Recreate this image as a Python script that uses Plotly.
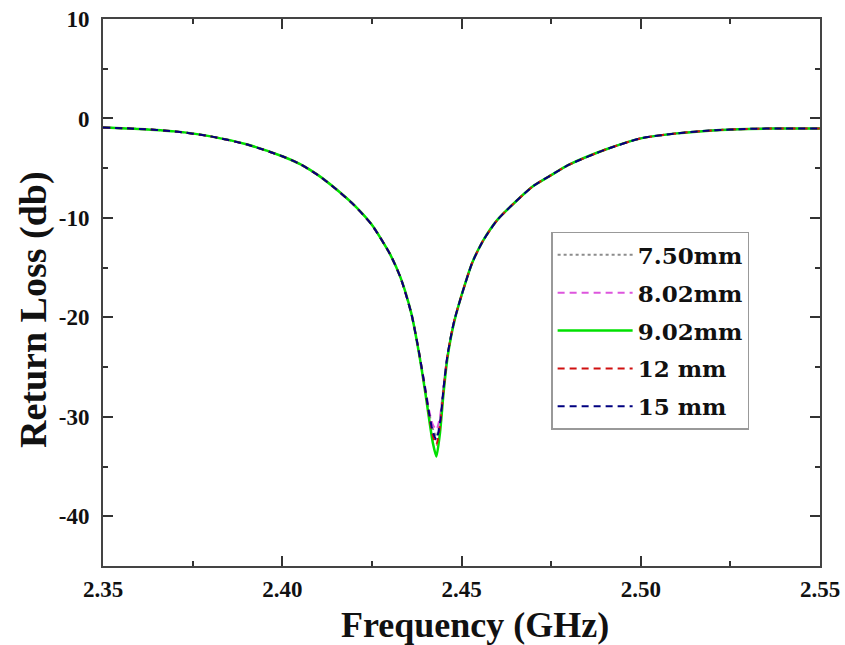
import plotly.graph_objects as go

# Frequency sweep (GHz)
freq = [2.350, 2.360, 2.370, 2.380, 2.390, 2.400, 2.405, 2.410, 2.415, 2.420,
        2.425, 2.430, 2.433, 2.436, 2.438, 2.440, 2.441, 2.442, 2.443, 2.444,
        2.445, 2.446, 2.447, 2.448, 2.450, 2.453, 2.456, 2.460, 2.465, 2.470,
        2.475, 2.480, 2.490, 2.500, 2.510, 2.520, 2.530, 2.540, 2.550]

# Return loss (dB) for each slot length
rl_750 = [-0.9, -1.05, -1.3, -1.8, -2.6, -3.8, -4.6, -5.7, -7.1, -8.7,
          -10.7, -13.6, -16.0, -19.6, -23.2, -27.4, -29.6, -31.2, -32.0, -30.4,
          -27.0, -24.0, -22.0, -20.3, -17.8, -14.5, -12.3, -10.2, -8.4, -6.8,
          -5.7, -4.65, -3.15, -2.0, -1.5, -1.2, -1.05, -1.0, -1.0]
rl_802 = [-0.9, -1.05, -1.3, -1.8, -2.6, -3.8, -4.6, -5.7, -7.1, -8.7,
          -10.7, -13.6, -16.0, -19.6, -23.2, -27.3, -29.4, -30.8, -31.3, -30.0,
          -26.8, -24.0, -22.0, -20.3, -17.8, -14.5, -12.3, -10.2, -8.4, -6.8,
          -5.7, -4.65, -3.15, -2.0, -1.5, -1.2, -1.05, -1.0, -1.0]
rl_902 = [-0.9, -1.05, -1.3, -1.8, -2.6, -3.8, -4.6, -5.7, -7.1, -8.7,
          -10.7, -13.6, -16.0, -19.6, -23.3, -27.8, -30.3, -32.6, -34.0, -31.6,
          -27.6, -24.3, -22.1, -20.4, -17.8, -14.5, -12.3, -10.2, -8.4, -6.8,
          -5.7, -4.65, -3.15, -2.0, -1.5, -1.2, -1.05, -1.0, -1.0]
rl_12 = [-0.9, -1.05, -1.3, -1.8, -2.6, -3.8, -4.6, -5.7, -7.1, -8.7,
         -10.7, -13.6, -16.0, -19.6, -23.2, -27.6, -29.9, -31.9, -32.8, -30.9,
         -27.3, -24.1, -22.0, -20.3, -17.8, -14.5, -12.3, -10.2, -8.4, -6.8,
         -5.7, -4.65, -3.15, -2.0, -1.5, -1.2, -1.05, -1.0, -1.0]
rl_15 = [-0.9, -1.05, -1.3, -1.8, -2.6, -3.8, -4.6, -5.7, -7.1, -8.7,
         -10.7, -13.6, -16.0, -19.6, -23.2, -27.5, -29.7, -31.5, -32.3, -30.6,
         -27.1, -24.0, -22.0, -20.3, -17.8, -14.5, -12.3, -10.2, -8.4, -6.8,
         -5.7, -4.65, -3.15, -2.0, -1.5, -1.2, -1.05, -1.0, -1.0]

names = ["7.50mm", "8.02mm", "9.02mm", "12 mm", "15 mm"]
series = [rl_750, rl_802, rl_902, rl_12, rl_15]
colors = ["#8c8c8c", "#dd55dd", "#00e000", "#d01010", "#000080"]
dashes = ["3px,3px", "7px,5px", "solid", "7px,5px", "7px,5px"]
widths = [2, 2, 2.5, 2, 2]

x_ticks = [2.35, 2.40, 2.45, 2.50, 2.55]
x_labels = ["2.35", "2.40", "2.45", "2.50", "2.55"]
y_ticks = [10, 0, -10, -20, -30, -40]
y_labels = ["10", "0", "-10", "-20", "-30", "-40"]

fig = go.Figure()
for i, (nm, ys, c, d, w) in enumerate(zip(names, series, colors, dashes, widths)):
    fig.add_trace(go.Scatter(
        x=freq, y=ys, mode="lines", name=nm, legendgroup=f"g{i}",
        line=dict(color=c, dash=d, width=w, shape="spline", smoothing=0.6),
    ))

serif = "Liberation Serif, Times New Roman, serif"
axis_common = dict(
    showgrid=False, zeroline=False, showline=True, linecolor="#444444",
    linewidth=2, mirror="allticks", ticks="inside", tickwidth=2,
    tickcolor="#333333", ticklen=10, automargin=False,
    tickfont=dict(family=serif, size=23, color="#111111", weight="bold"),
)

fig.update_xaxes(
    range=[2.35, 2.55], tickvals=x_ticks, ticktext=x_labels,
    ticklabelstandoff=1,
    minor=dict(dtick=0.025, tick0=2.35, ticks="inside", ticklen=5,
               tickwidth=2, tickcolor="#333333"),
    **axis_common,
)
fig.update_yaxes(
    range=[-45, 10], tickvals=y_ticks, ticktext=y_labels,
    ticklabelstandoff=7,
    minor=dict(dtick=5, tick0=0, ticks="inside", ticklen=5,
               tickwidth=2, tickcolor="#333333"),
    **axis_common,
)

fig.update_layout(
    width=845, height=645,
    margin=dict(l=103, r=25, t=19, b=79),
    plot_bgcolor="white", paper_bgcolor="white",
    legend=dict(
        x=0.625, y=0.611, xanchor="left", yanchor="top",
        bgcolor="white", bordercolor="#999999", borderwidth=1.5,
        font=dict(family="DejaVu Serif, serif", size=23, color="#111111",
                  weight="bold"),
        itemwidth=75, tracegroupgap=5,
    ),
    annotations=[
        dict(text="Frequency (GHz)", xref="paper", yref="paper",
             x=0.519, y=-0.1075, xanchor="center", yanchor="middle",
             showarrow=False,
             font=dict(family=serif, size=36, color="#111111", weight="bold")),
        dict(text="Return Loss (db)", xref="paper", yref="paper",
             x=-0.0976, y=0.468, xanchor="center", yanchor="middle",
             textangle=-90, showarrow=False,
             font=dict(family=serif, size=38, color="#111111", weight="bold")),
    ],
)

fig.write_html("out.html")
